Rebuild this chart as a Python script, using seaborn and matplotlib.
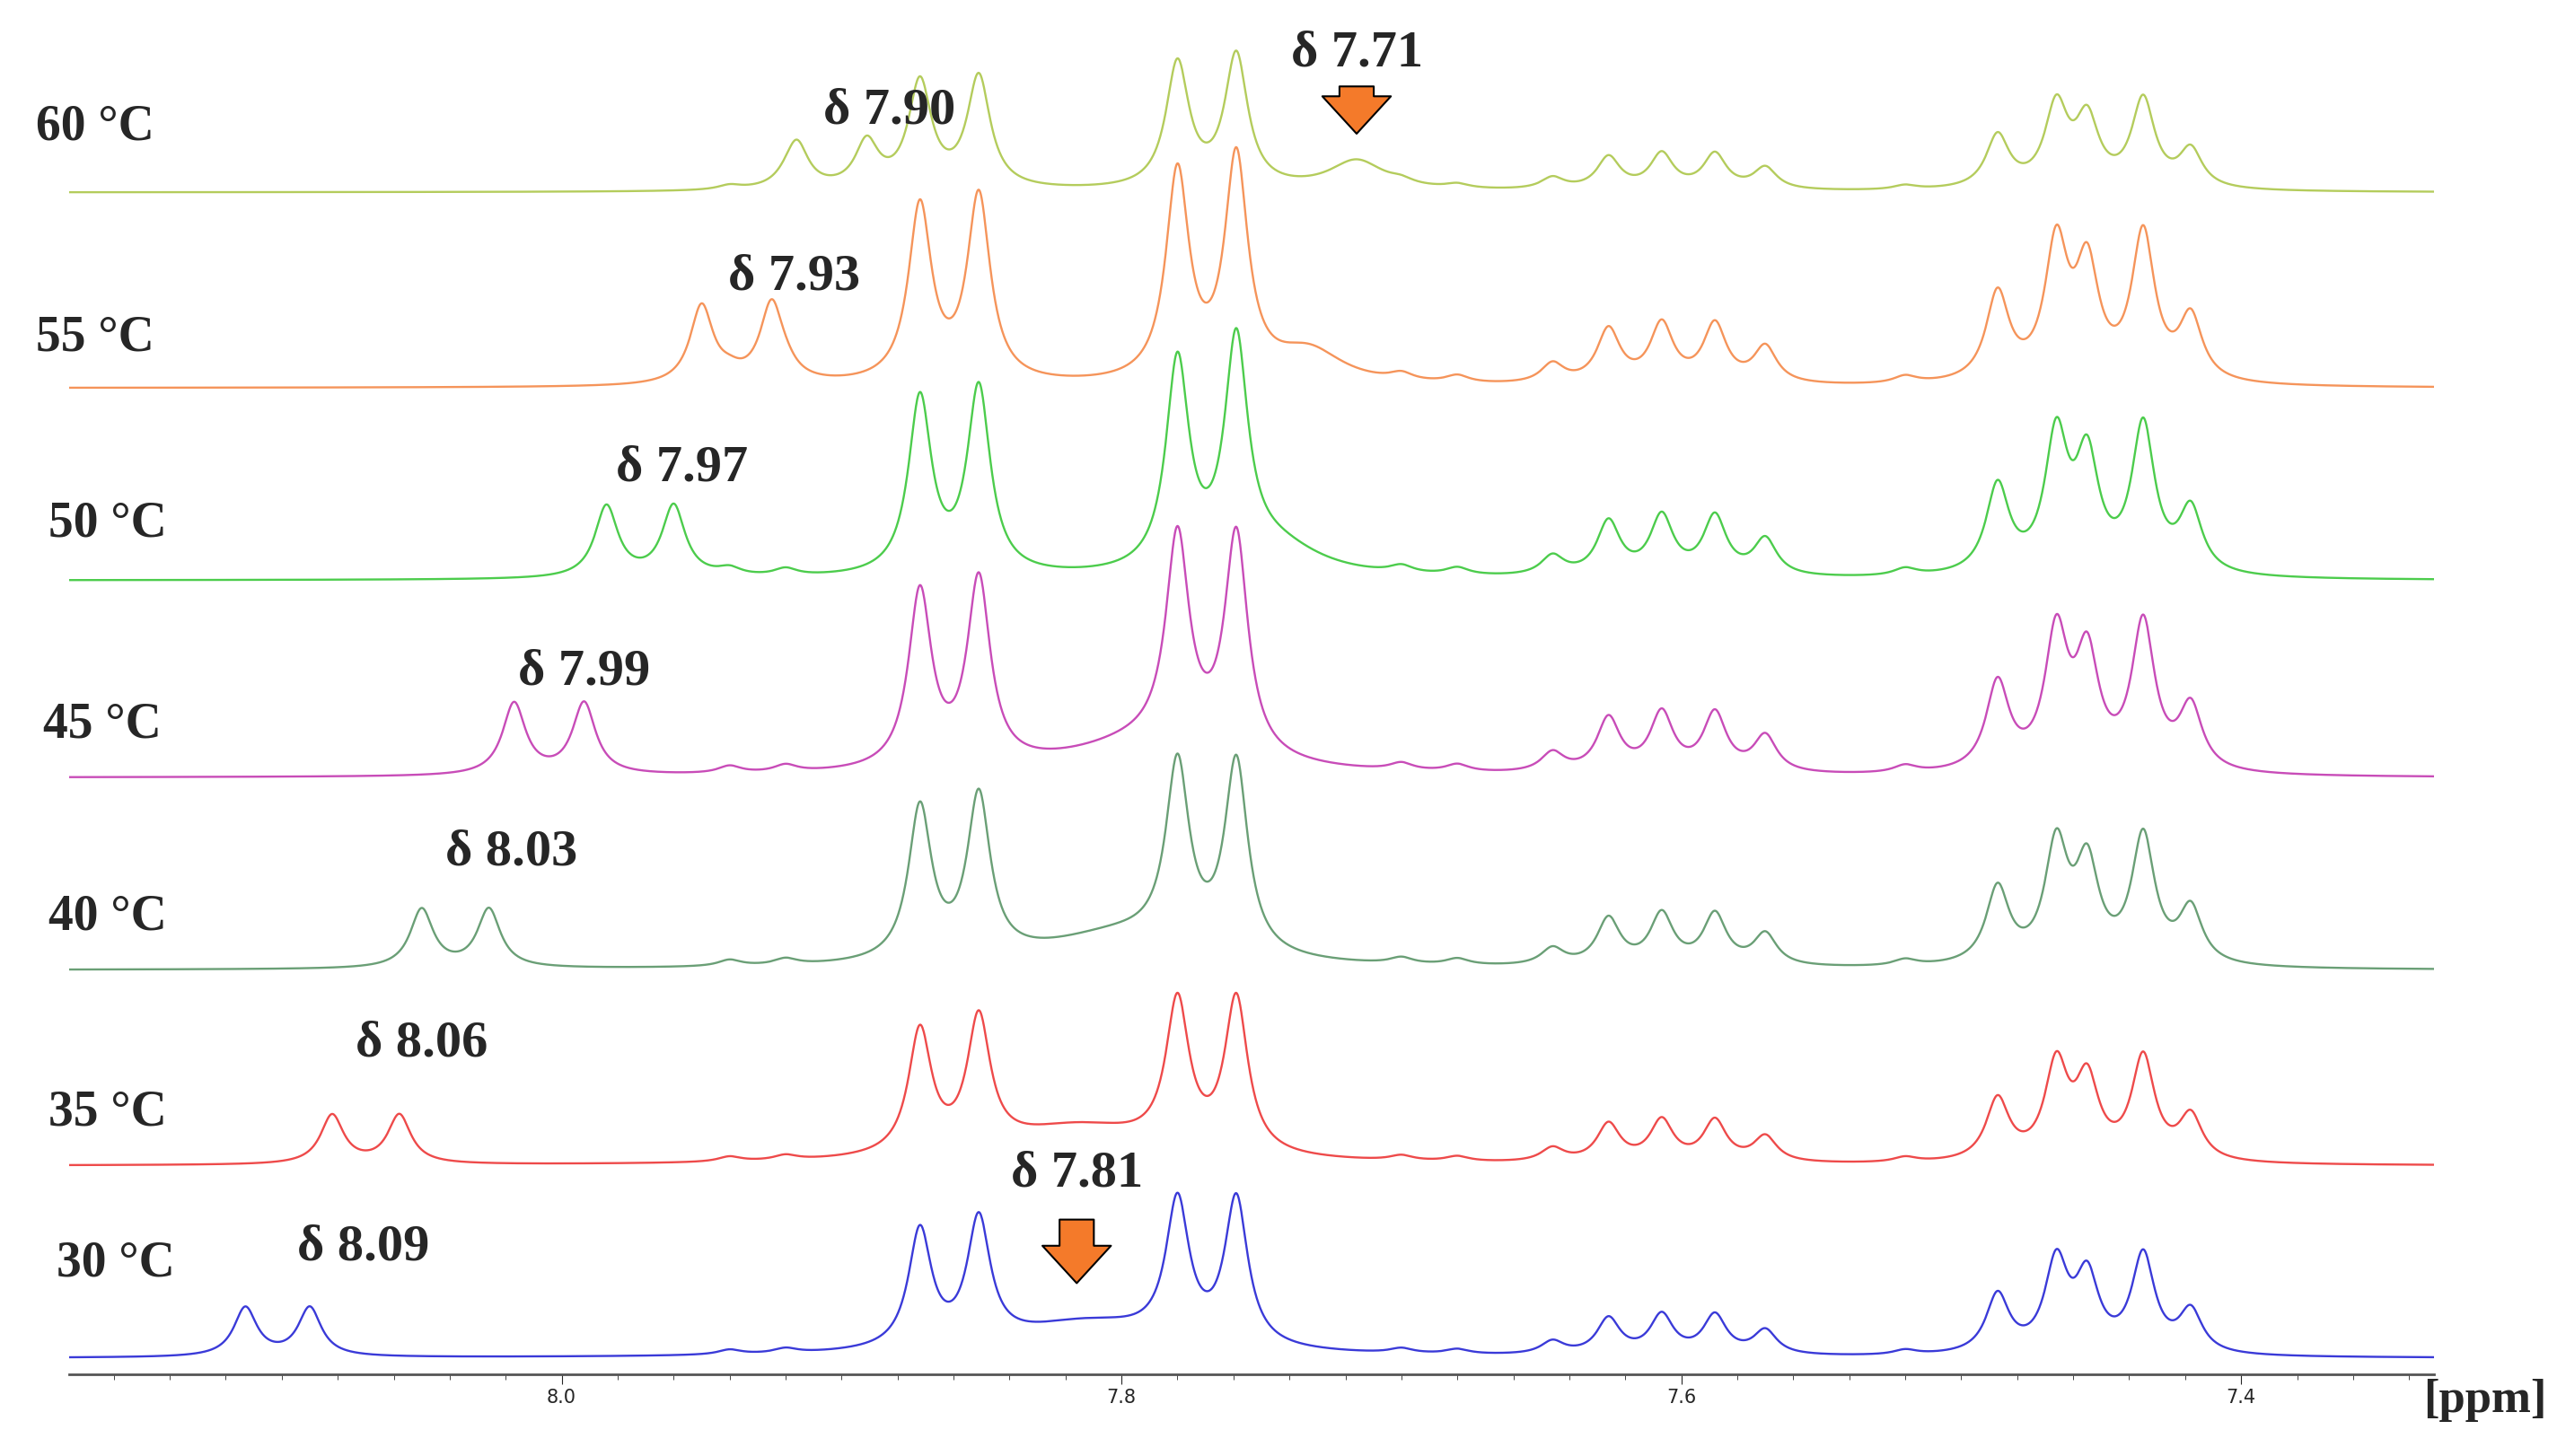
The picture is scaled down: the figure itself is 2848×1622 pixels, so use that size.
import numpy as np
import matplotlib.pyplot as plt
import seaborn as sns

sns.set_style("white")
plt.rcParams['font.family'] = ['Liberation Serif', 'DejaVu Serif']

# temperatures, colours and baseline heights (px units of the stacked plot)
temps = ["30 °C", "35 °C", "40 °C", "45 °C", "50 °C", "55 °C", "60 °C"]
colors = ["#3a3ad8", "#ee4a4a", "#6a9f76", "#c84cb8", "#4ccc4c", "#f5945a", "#b4cc5c"]
baselines = [60, 178, 298, 416, 537, 655, 775]

# shifting doublet (ppm) and its height for each temperature
doublet_a = [8.113, 8.082, 8.050, 8.017, 7.984, 7.950, 7.916]
doublet_b = [8.090, 8.058, 8.026, 7.992, 7.960, 7.925, 7.891]
doublet_h = [30, 30, 36, 44, 44, 48, 28]
shift_lbl = ["δ 8.09", "δ 8.06", "δ 8.03", "δ 7.99", "δ 7.97", "δ 7.93", "δ 7.90"]
shift_lbl_x = [8.071, 8.050, 8.018, 7.992, 7.957, 7.917, 7.883]
shift_lbl_y = [128, 253, 370, 481, 606, 723, 825]

# broad exchanging peak: centre, height, width
broad_c = [7.812, 7.815, 7.800, 7.790, 7.745, 7.733, 7.716]
broad_h = [20, 22, 20, 20, 18, 20, 18]
broad_w = [0.035, 0.035, 0.035, 0.035, 0.02, 0.015, 0.012]

# main peak scale per temperature
main_scale = [1.0, 1.05, 1.3, 1.5, 1.5, 1.5, 0.9]

# fixed aromatic peaks (ppm, relative height)
fixed_ppm = [7.872, 7.851, 7.780, 7.759, 7.646, 7.626, 7.607, 7.588, 7.570,
             7.487, 7.466, 7.455, 7.435, 7.418, 7.940, 7.920, 7.700, 7.680, 7.52]
fixed_h = [72, 76, 85, 90, 8, 22, 24, 24, 15, 36, 55, 45, 60, 26, 3, 3, 3, 3, 3]

# temperature labels in figure fraction
temp_x = [0.022, 0.019, 0.019, 0.017, 0.019, 0.014, 0.014]
temp_y = [0.132, 0.236, 0.370, 0.502, 0.640, 0.768, 0.913]

x = np.linspace(7.331, 8.176, 4000)
g = 0.005


def lor(c, h, w):
    return h * w**2 / ((x - c)**2 + w**2)


fig = plt.figure(figsize=(28.48, 16.22), dpi=100)
ax = fig.add_axes([0.027, 0.056, 0.925, 0.944])
for i in range(len(temps)):
    y = np.zeros_like(x)
    for c, h in zip(fixed_ppm, fixed_h):
        y += lor(c, h * main_scale[i], g)
    y += lor(doublet_a[i], doublet_h[i], g) + lor(doublet_b[i], doublet_h[i], g)
    y += lor(broad_c[i], broad_h[i], broad_w[i])
    sns.lineplot(x=x, y=y + baselines[i], color=colors[i], lw=1.7, ax=ax)
    fig.text(temp_x[i], temp_y[i], temps[i], fontsize=40, fontweight='bold',
             ha='left', va='center')
    ax.text(shift_lbl_x[i], shift_lbl_y[i], shift_lbl[i],
            fontsize=42, fontweight='bold', ha='center', va='center')

# extra labels and arrows
ax.text(7.816, 173, "δ 7.81", fontsize=42, fontweight='bold', ha='center', va='center')
ax.text(7.716, 860, "δ 7.71", fontsize=42, fontweight='bold', ha='center', va='center')
for xa, ytop, ytip in [(7.816, 145, 106), (7.716, 840, 811)]:
    ax.annotate("", xy=(xa, ytip), xytext=(xa, ytop),
                arrowprops=dict(arrowstyle="simple,head_width=1.1,head_length=0.6,tail_width=0.55",
                                mutation_scale=50, shrinkA=0, shrinkB=0,
                                fc="#f47a2a", ec="black", lw=1.5))

ax.set_xlim(8.176, 7.331)
ax.set_ylim(50, 893)
ax.set_xticks([8.0, 7.8, 7.6, 7.4])
ax.set_xticklabels(["8.0", "7.8", "7.6", "7.4"], family='DejaVu Sans', fontsize=15)
ax.xaxis.set_minor_locator(plt.MultipleLocator(0.02))
ax.tick_params(axis='x', which='major', direction='out', length=8, bottom=True)
ax.tick_params(axis='x', which='minor', direction='out', length=4, bottom=True)
ax.set_yticks([])
for s in ['top', 'left', 'right']:
    ax.spines[s].set_visible(False)
ax.spines['bottom'].set_color('#555555')
ax.spines['bottom'].set_linewidth(2)
fig.text(0.972, 0.038, "[ppm]", fontsize=38, fontweight='bold', ha='center', va='center')
fig.savefig("out.png", dpi=100)
